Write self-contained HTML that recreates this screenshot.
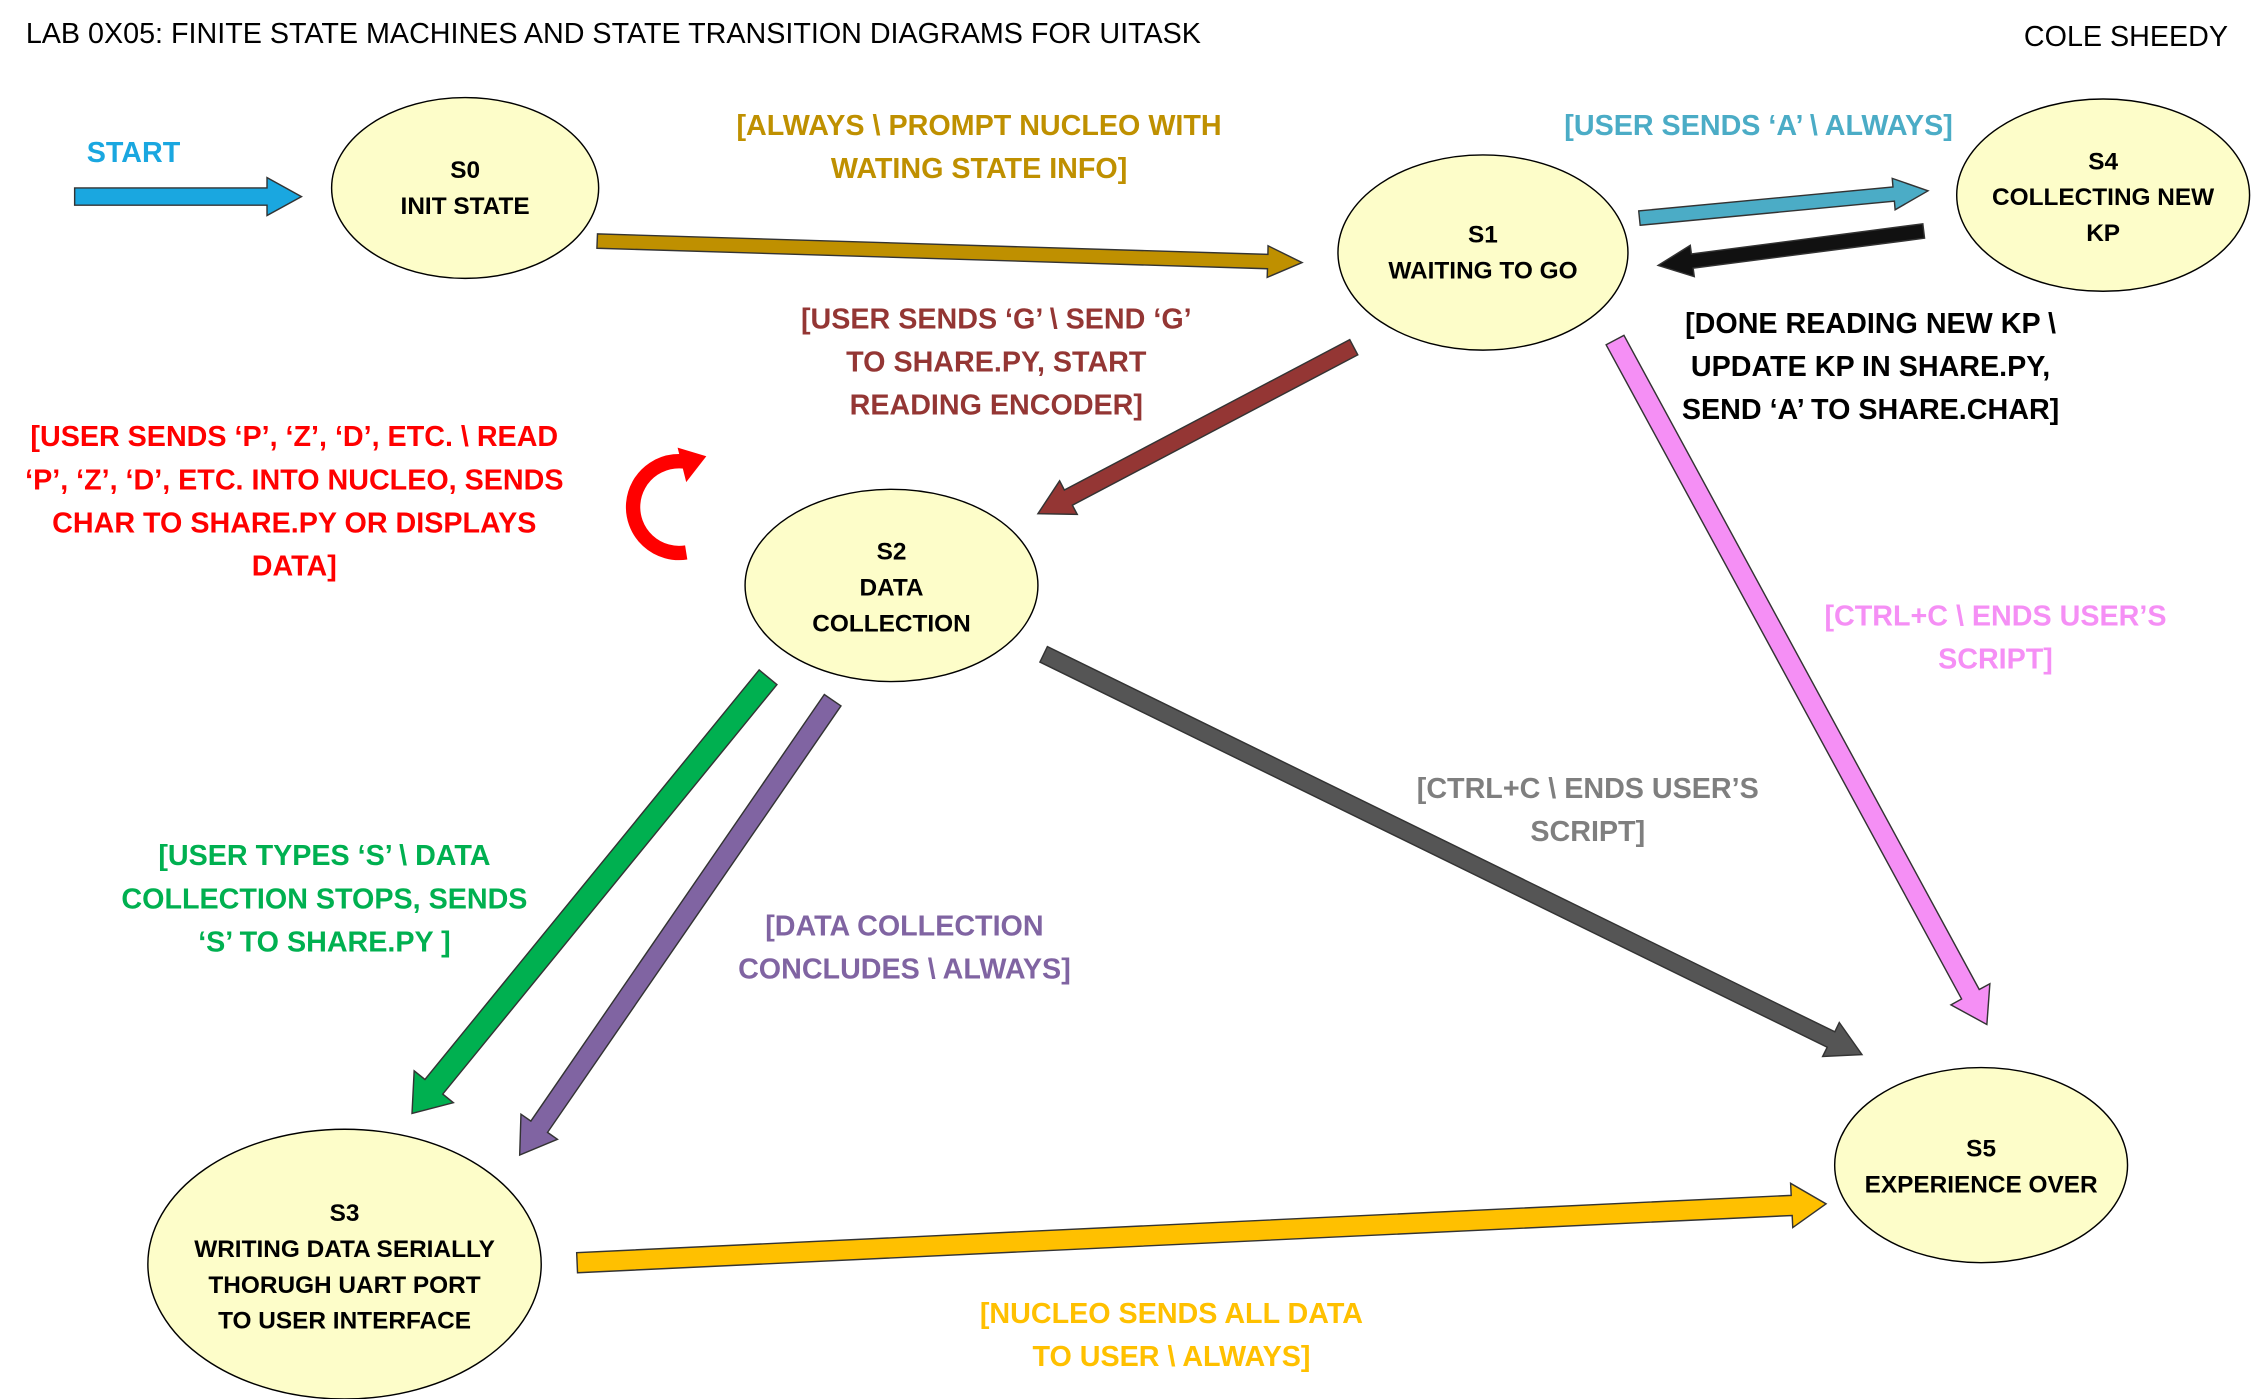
<!DOCTYPE html>
<html><head><meta charset="utf-8"><style>
html,body{margin:0;padding:0;background:#fff;}
svg{display:block;}
text{font-family:"Liberation Sans",sans-serif;}
.n{font-size:17px;font-weight:bold;text-anchor:middle;fill:#000;}
.l{font-size:20px;font-weight:bold;text-anchor:middle;}
</style></head><body>
<svg id="s" width="2251" height="1399" viewBox="0 0 1568 975" preserveAspectRatio="none" xmlns="http://www.w3.org/2000/svg">
<rect width="1568" height="975" fill="#fff"/>
<text x="18" y="30" style="font-size:20px">LAB 0X05: FINITE STATE MACHINES AND STATE TRANSITION DIAGRAMS FOR UITASK</text>
<text x="1552" y="32" style="font-size:20px;text-anchor:end">COLE SHEEDY</text>
<g id="arrows"></g>
<g fill="#fdfdc9" stroke="#000" stroke-width="1">
<ellipse cx="324" cy="131" rx="93" ry="63"/>
<ellipse cx="1033" cy="176" rx="101" ry="68"/>
<ellipse cx="1465" cy="136" rx="102" ry="67"/>
<ellipse cx="621" cy="408" rx="102" ry="67"/>
<ellipse cx="240" cy="881" rx="137" ry="94"/>
<ellipse cx="1380" cy="812" rx="102" ry="68"/>
</g>
<text class="n" x="324" y="124">S0</text><text class="n" x="324" y="149">INIT STATE</text>
<text class="n" x="1033" y="169">S1</text><text class="n" x="1033" y="194">WAITING TO GO</text>
<text class="n" x="1465" y="118">S4</text><text class="n" x="1465" y="143">COLLECTING NEW</text><text class="n" x="1465" y="168">KP</text>
<text class="n" x="621" y="390">S2</text><text class="n" x="621" y="415">DATA</text><text class="n" x="621" y="440">COLLECTION</text>
<text class="n" x="240" y="851">S3</text><text class="n" x="240" y="876">WRITING DATA SERIALLY</text><text class="n" x="240" y="901">THORUGH UART PORT</text><text class="n" x="240" y="926">TO USER INTERFACE</text>
<text class="n" x="1380" y="806">S5</text><text class="n" x="1380" y="831">EXPERIENCE OVER</text>
<path d="M 478 385 A 32 32 0 1 1 483 323" fill="none" stroke="#ff0000" stroke-width="10"/>
<polygon points="472,312 492,318 478,336" fill="#ff0000"/>
<text class="l" x="93" y="113" fill="#1aa7e0">START</text>
<g class="l" fill="#bf9000"><text x="682" y="94">[ALWAYS \ PROMPT NUCLEO WITH</text><text x="682" y="124">WATING STATE INFO]</text></g>
<g class="l" fill="#4bacc6"><text x="1225" y="94">[USER SENDS ‘A’  \ ALWAYS]</text></g>
<g class="l" fill="#000"><text x="1303" y="232">[DONE READING NEW KP  \</text><text x="1303" y="262">UPDATE KP IN SHARE.PY,</text><text x="1303" y="292">SEND ‘A’ TO SHARE.CHAR]</text></g>
<g class="l" fill="#943634"><text x="694" y="229">[USER SENDS ‘G’  \ SEND ‘G’</text><text x="694" y="259">TO SHARE.PY, START</text><text x="694" y="289">READING ENCODER]</text></g>
<g class="l" fill="#ff0000"><text x="205" y="311">[USER SENDS ‘P’, ‘Z’, ‘D’, ETC.  \ READ</text><text x="205" y="341">‘P’, ‘Z’, ‘D’, ETC. INTO NUCLEO, SENDS</text><text x="205" y="371">CHAR TO SHARE.PY OR DISPLAYS</text><text x="205" y="401">DATA]</text></g>
<g class="l" fill="#f58ff5"><text x="1390" y="436">[CTRL+C \ ENDS USER’S</text><text x="1390" y="466">SCRIPT]</text></g>
<g class="l" fill="#7f7f7f"><text x="1106" y="556">[CTRL+C \ ENDS USER’S</text><text x="1106" y="586">SCRIPT]</text></g>
<g class="l" fill="#00b050"><text x="226" y="603">[USER TYPES ‘S’ \ DATA</text><text x="226" y="633">COLLECTION STOPS, SENDS</text><text x="226" y="663">‘S’ TO SHARE.PY ]</text></g>
<g class="l" fill="#8064a2"><text x="630" y="652">[DATA COLLECTION</text><text x="630" y="682">CONCLUDES \  ALWAYS]</text></g>
<g class="l" fill="#ffc000"><text x="816" y="922">[NUCLEO SENDS ALL DATA</text><text x="816" y="952">TO USER  \  ALWAYS]</text></g>
</svg>
<script>
var A=[[52,137,210,137,'#1aa7e0',12],[416,168,907,183,'#bf9000',10],[1142,152,1343,133,'#4bacc6',10],[1340,161,1155,185,'#111',10],
[943,242,723,358,'#943634',12],[1125,237,1384,714,'#f58ff5',14],[727,456,1297,735,'#555',12],[535,472,287,776,'#00b050',16],
[580,488,362,805,'#8064a2',14],[402,880,1272,839,'#ffc000',14]];
var g=document.getElementById('arrows'),h='';
A.forEach(function(a){var x1=a[0],y1=a[1],x2=a[2],y2=a[3],w=a[5]/2,H=w*2.2,L=24;
var dx=x2-x1,dy=y2-y1,d=Math.hypot(dx,dy),ux=dx/d,uy=dy/d,px=-uy,py=ux,bx=x2-ux*L,by=y2-uy*L;
var p=[[x1+px*w,y1+py*w],[bx+px*w,by+py*w],[bx+px*H,by+py*H],[x2,y2],[bx-px*H,by-py*H],[bx-px*w,by-py*w],[x1-px*w,y1-py*w]];
h+='<polygon points="'+p.map(function(q){return q[0].toFixed(1)+','+q[1].toFixed(1)}).join(' ')+'" fill="'+a[4]+'" stroke="#333" stroke-width="1"/>';});
g.innerHTML=h;
</script>
</body></html>
